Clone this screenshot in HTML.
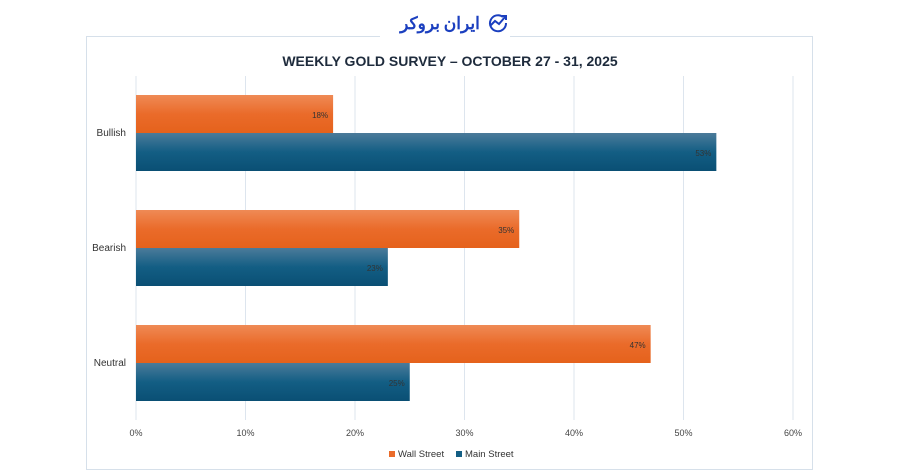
<!DOCTYPE html>
<html><head><meta charset="utf-8"><style>
body{margin:0;background:#fff;width:900px;height:471px;overflow:hidden;font-family:"Liberation Sans","Noto Sans CJK SC",sans-serif;}
</style></head><body>
<svg width="900" height="471">
<defs>
<linearGradient id="og" x1="0" y1="0" x2="0" y2="1"><stop offset="0" stop-color="#ef8a55"/><stop offset="0.5" stop-color="#ea6b2a"/><stop offset="1" stop-color="#e5621c"/></linearGradient>
<linearGradient id="bg" x1="0" y1="0" x2="0" y2="1"><stop offset="0" stop-color="#4b7b9a"/><stop offset="0.5" stop-color="#135e84"/><stop offset="1" stop-color="#0a4f74"/></linearGradient>
</defs>
<rect x="86.5" y="36.5" width="726" height="433" fill="#fff" stroke="#d6e0ea"/>
<rect x="380" y="8" width="130" height="40" fill="#fff"/>
<text x="440" y="29" font-size="17" font-weight="bold" fill="#1b3fbf" text-anchor="middle" font-family="'Noto Sans CJK SC',sans-serif">ایران بروکر</text>
<g fill="none" stroke="#1b3fbf" stroke-width="2">
<path d="M503 17 a8 8 0 1 0 3 6"/><path d="M490 26 l5-5 4 3 6-7 M502 16 h4 v4"/>
</g>
<text x="450" y="66" font-size="14" font-weight="bold" fill="#1e2b3c" text-anchor="middle">WEEKLY GOLD SURVEY – OCTOBER 27 - 31, 2025</text>
<g id="grid"></g><g id="bars"></g><g id="labels"></g>
<g>
<rect x="389" y="451" width="6" height="6" fill="#ea6b2a"/><text x="398" y="457" font-size="9.5" fill="#333">Wall Street</text>
<rect x="456" y="451" width="6" height="6" fill="#135e84"/><text x="465" y="457" font-size="9.5" fill="#333">Main Street</text>
</g>
</svg>
<script>
const categories=["Bullish","Bearish","Neutral"];
const wallStreet=[18,35,47];
const mainStreet=[53,23,25];
const ticks=[0,10,20,30,40,50,60];
const NS="http://www.w3.org/2000/svg";
const x=v=>136+v*(657/60);
const bandY=i=>76+i*115;
function el(t,a,p){const e=document.createElementNS(NS,t);for(const k in a)e.setAttribute(k,a[k]);document.getElementById(p).appendChild(e);return e;}
ticks.forEach(t=>{
 const l=el('line',{x1:x(t),x2:x(t),y1:76,y2:420,stroke:'#dde5ee'},'grid');
 
 
 const tx=el('text',{x:x(t),y:436,'font-size':9,fill:'#444','text-anchor':'middle'},'labels');
 tx.textContent=t+'%';
 
 
});
categories.forEach((c,i)=>{
 const y0=bandY(i)+19;
 const ct=el('text',{x:126,y:y0+41,'font-size':10,fill:'#333','text-anchor':'end'},'labels');
 ct.textContent=c;
 
 
 [[wallStreet[i],'url(#og)',y0,'wall-street'],[mainStreet[i],'url(#bg)',y0+38,'main-street']].forEach(([v,f,y,n])=>{
  const r=el('rect',{x:x(0),y:y,width:x(v)-x(0),height:38,fill:f},'bars');
  
  
  const t=el('text',{x:x(v)-5,y:y+23,'font-size':8,fill:'#333','text-anchor':'end'},'labels');
  t.textContent=v+'%';
  
  
 });
});
</script>
</body></html>
